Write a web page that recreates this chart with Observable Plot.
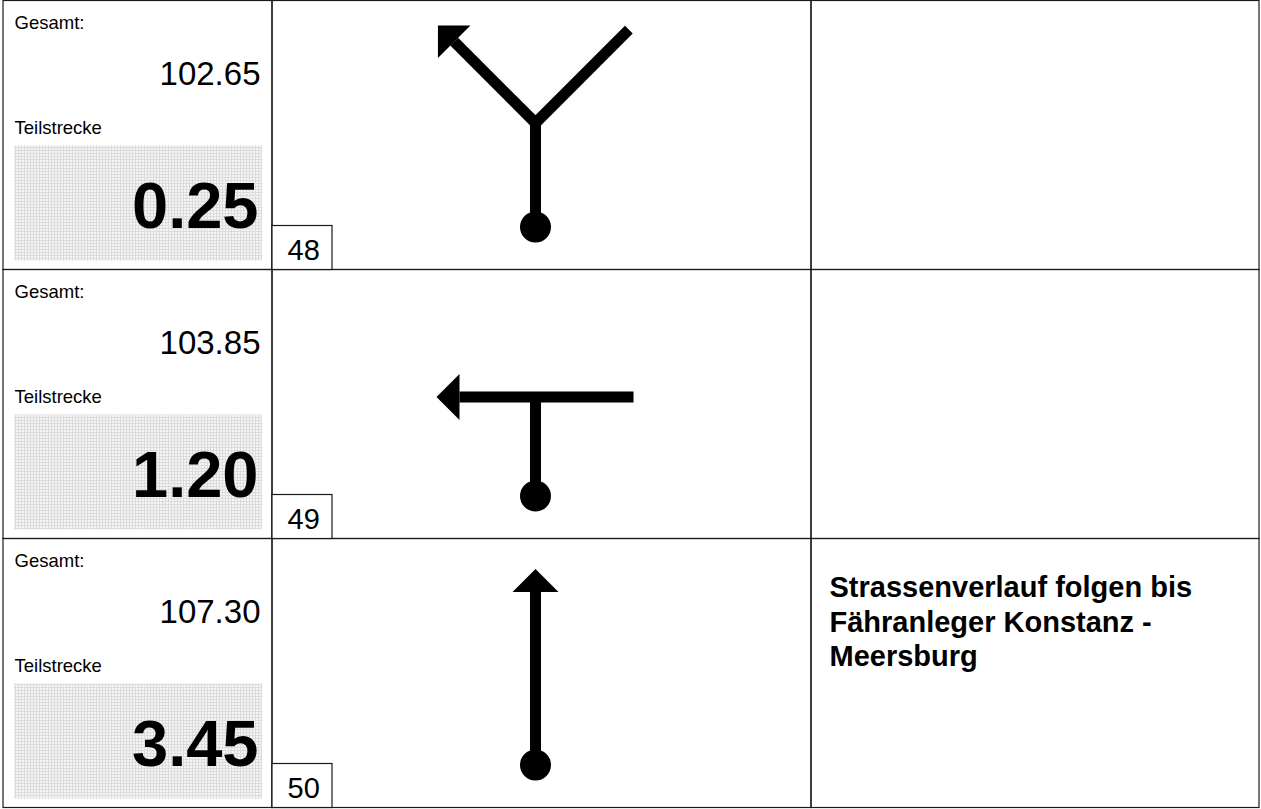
<!DOCTYPE html>
<html><head><meta charset="utf-8">
<script src="https://cdn.jsdelivr.net/npm/d3@7"></script>
<script src="https://cdn.jsdelivr.net/npm/@observablehq/plot@0.6"></script>
<style>html,body{margin:0;padding:0;background:#fff;overflow:hidden}svg{display:block}</style>
</head><body><div id="chart"></div>
<script>
// ---- data ----
const entries = [48, 49, 50];
const gesamt = ["102.65", "103.85", "107.30"];
const teilstrecke = ["0.25", "1.20", "3.45"];
const notes = ["", "", "Strassenverlauf folgen bis\nFähranleger Konstanz -\nMeersburg"];
const labelGesamt = "Gesamt:";
const labelTeil = "Teilstrecke";
// tulip diagrams: angles in degrees clockwise from straight ahead
const stemLen = [104, 99, 98];
const exitAngle = [-45, -90, 0];
const exitLen = [138, 99, 98];
const otherAngles = [[45], [90], []];
const otherLens = [[132], [98], []];

// ---- layout ----
const W = 1261, H = 809;
const left = 3, right = 1259, top0 = 0.5, rowH = 269;
const col1 = 272, col2 = 811;
const font = "'Liberation Sans', Arial, sans-serif";
const tulipX = col1 + 263, dotOff = 226, headLen = 23, headHalf = 23, roadW = 11;

const rows = entries.map((e, i) => ({
  i, entry: e, gesamt: gesamt[i], teil: teilstrecke[i], note: notes[i],
  top: top0 + i * rowH, bottom: top0 + (i + 1) * rowH
}));

const cells = rows.flatMap(r => [
  {x1: left, x2: col1, y1: r.top, y2: r.bottom},
  {x1: col1, x2: col2, y1: r.top, y2: r.bottom},
  {x1: col2, x2: right, y1: r.top, y2: r.bottom}
]);

const roads = [], stems = [], heads = [], dots = [];
rows.forEach(r => {
  const d = {x: tulipX, y: r.top + dotOff};
  const j = {x: d.x, y: d.y - stemLen[r.i]};
  dots.push(d);
  stems.push({id: r.i, ...d}, {id: r.i, ...j});
  const a = exitAngle[r.i] * Math.PI / 180;
  const dx = Math.sin(a), dy = -Math.cos(a);
  const tip = {x: j.x + exitLen[r.i] * dx, y: j.y + exitLen[r.i] * dy};
  const base = {x: tip.x - headLen * dx, y: tip.y - headLen * dy};
  const px = Math.cos(a), py = Math.sin(a);
  heads.push({id: r.i, ...tip},
    {id: r.i, x: base.x + headHalf * px, y: base.y + headHalf * py},
    {id: r.i, x: base.x - headHalf * px, y: base.y - headHalf * py});
  const others = otherAngles[r.i];
  others.forEach((oa, k) => {
    const b = oa * Math.PI / 180, L = otherLens[r.i][k];
    roads.push({id: r.i + "-" + k, x: j.x + L * Math.sin(b), y: j.y - L * Math.cos(b)},
               {id: r.i + "-" + k, ...j},
               {id: r.i + "-" + k, ...base});
  });
  if (!others.length) roads.push({id: r.i + "-x", ...j}, {id: r.i + "-x", ...base});
});

const svg = Plot.plot({
  width: W, height: H,
  margin: 0,
  x: {domain: [0, W], range: [0, W], axis: null},
  y: {domain: [0, H], range: [0, H], axis: null},
  style: {fontFamily: font, background: "#fff", color: "#000"},
  marks: [
    Plot.rect(rows, {x1: 14, x2: 262, y1: r => r.top + 145, y2: r => r.top + 260, fill: "url(#grid)"}),
    Plot.rect(cells, {x1: "x1", x2: "x2", y1: "y1", y2: "y2", fill: "none", stroke: "#1a1a1a", strokeWidth: 1.2}),
    Plot.rect(rows, {x1: col1, x2: col1 + 60, y1: r => r.top + 225, y2: r => r.bottom, fill: "#fff", stroke: "#1a1a1a", strokeWidth: 1.2}),
    Plot.text(rows, {x: 14, y: r => r.top + 28, text: () => labelGesamt, textAnchor: "start", lineAnchor: "bottom", fontSize: 18.5, fill: "#000", fontFamily: font}),
    Plot.text(rows, {x: 260, y: r => r.top + 84, text: "gesamt", textAnchor: "end", lineAnchor: "bottom", fontSize: 33, fill: "#000", fontFamily: font}),
    Plot.text(rows, {x: 14, y: r => r.top + 133, text: () => labelTeil, textAnchor: "start", lineAnchor: "bottom", fontSize: 18.5, fill: "#000", fontFamily: font}),
    Plot.text(rows, {x: 258, y: r => r.top + 227, text: "teil", textAnchor: "end", lineAnchor: "bottom", fontSize: 65, fontWeight: "bold", fill: "#000", fontFamily: font}),
    Plot.text(rows, {x: col1 + 15, y: r => r.top + 259, text: "entry", textAnchor: "start", lineAnchor: "bottom", fontSize: 29, fill: "#000", fontFamily: font}),
    Plot.text(rows.filter(r => r.note), {x: col2 + 18, y: r => r.top + 34, text: "note", textAnchor: "start", lineAnchor: "top", fontSize: 29, lineHeight: 1.18, fontWeight: "bold", fill: "#000", fontFamily: font}),
    Plot.line(roads, {x: "x", y: "y", z: "id", stroke: "#000", strokeWidth: roadW, strokeLinejoin: "miter", strokeLinecap: "butt"}),
    Plot.line(stems, {x: "x", y: "y", z: "id", stroke: "#000", strokeWidth: roadW, strokeLinecap: "butt"}),
    Plot.line(heads, {x: "x", y: "y", z: "id", fill: "#000", stroke: "none"}),
    Plot.dot(dots, {x: "x", y: "y", r: 15.5, fill: "#000", stroke: "none"})
  ]
});
d3.select(svg).insert("defs", ":first-child").html(
  '<pattern id="grid" width="3" height="3" patternUnits="userSpaceOnUse">' +
  '<rect width="3" height="3" fill="#f5f5f5"/>' +
  '<path d="M0 0.5H3M0.5 0V3" stroke="#dcdcdc" stroke-width="1"/></pattern>');
document.getElementById("chart").appendChild(svg);
</script>
</body></html>
